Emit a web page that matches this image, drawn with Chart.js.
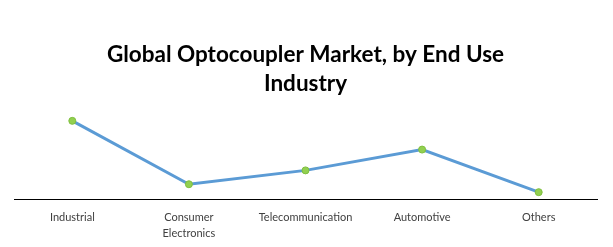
<!DOCTYPE html>
<html>
<head>
<meta charset="utf-8">
<script src="https://cdn.jsdelivr.net/npm/chart.js@4/dist/chart.umd.min.js"></script>
<style>
html,body{margin:0;padding:0;background:#fff;}
#wrap{width:613px;height:247px;position:relative;}
</style>
</head>
<body>
<div id="wrap"><canvas id="c" width="613" height="247"></canvas></div>
<script>
const titleLines = ["Global Optocoupler Market, by End Use", "Industry"];
const categories = ["Industrial", ["Consumer", "Electronics"], "Telecommunication", "Automotive", "Others"];
const shareValues = [79, 15, 29, 50, 7];

new Chart(document.getElementById('c'), {
  type: 'line',
  data: {
    labels: categories,
    datasets: [{
      data: shareValues,
      borderColor: '#5b9bd5',
      borderWidth: 3,
      backgroundColor: '#92d050',
      pointBackgroundColor: '#92d050',
      pointBorderColor: '#7fbf3f',
      pointBorderWidth: 1,
      pointRadius: 3.5,
      tension: 0
    }]
  },
  options: {
    responsive: false,
    animation: false,
    layout: { padding: { left: 14, right: 16, top: 0, bottom: -4 } },
    plugins: {
      legend: { display: false },
      tooltip: { enabled: false },
      title: {
        display: true,
        text: titleLines,
        color: '#000',
        font: { family: 'Lato', size: 22.5, weight: 'bold', lineHeight: 1.29 },
        padding: { top: 40, bottom: 2 }
      }
    },
    scales: {
      x: {
        offset: true,
        grid: { display: false, drawTicks: false },
        border: { display: true, color: '#000', width: 1 },
        ticks: { color: '#404040', font: { family: 'Lato', size: 11, lineHeight: 1.45 }, padding: 10, maxRotation: 0, autoSkip: false }
      },
      y: {
        display: false,
        min: 0,
        max: 100
      }
    }
  }
});
</script>
</body>
</html>
